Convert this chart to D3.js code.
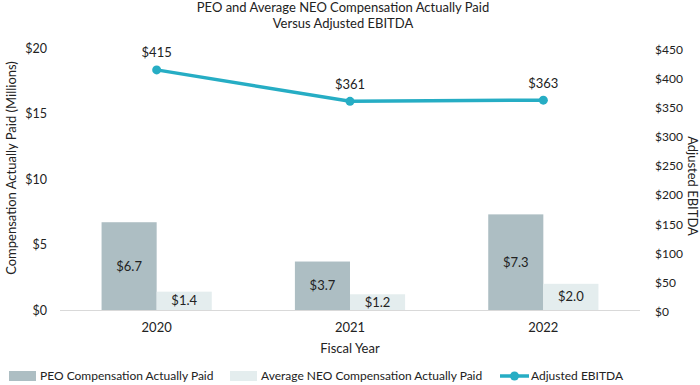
<!DOCTYPE html>
<html>
<head>
<meta charset="utf-8">
<script src="https://cdn.jsdelivr.net/npm/d3@7"></script>
<style>
	body { margin: 0; background: #fff; }
	svg { font-family: Lato, "Open Sans", sans-serif; fill: #222; }
</style>
</head>
<body>
<svg id="chart" width="700" height="385"></svg>
<script>
// Data
var years = ["2020", "2021", "2022"];
var series = ["PEO Compensation Actually Paid", "Average NEO Compensation Actually Paid"];
var peoPaid = [6.7, 3.7, 7.3];
var neoPaid = [1.4, 1.2, 2.0];
var ebitda = [415, 361, 363];
var leftTicks = [0, 5, 10, 15, 20];
var rightTicks = [0, 50, 100, 150, 200, 250, 300, 350, 400, 450];

var colors = ["#adbec3", "#e4edee"];
var lineColor = "#26adc4";

var svg = d3.select("#chart");

// Sizing
var plotLeft = 60, plotRight = 640, plotTop = 48, plotBottom = 310;

var xscale = d3.scaleBand().domain(years).range([plotLeft, plotRight]).paddingInner(0.43).paddingOuter(0.215);
var xinner = d3.scaleBand().domain(series).range([0, xscale.bandwidth()]);
var xline = d3.scalePoint().domain(years).range([plotLeft, plotRight]).padding(0.5);
var yleft = d3.scaleLinear().domain([0, 20]).range([plotBottom, plotTop]);
var yright = d3.scaleLinear().domain([0, 450]).range([plotBottom + 1.5, plotTop + 1.5]);

// Title
var title = svg.append("text").attr("text-anchor", "middle").style("font-size", "13px");
title.append("tspan").attr("x", 343).attr("y", 12).text("PEO and Average NEO Compensation Actually Paid");
title.append("tspan").attr("x", 343).attr("y", 28).text("Versus Adjusted EBITDA");

// Axes (labels only)
var leftAxis = svg.append("g")
	.attr("transform", `translate(${plotLeft - 13},0)`)
	.call(d3.axisLeft(yleft).tickValues(leftTicks).tickSize(0).tickFormat((d) => "$" + d));
leftAxis.select(".domain").remove();
leftAxis.selectAll("text").attr("x", 0).style("font-size", "12.5px").style("font-family", "Lato").attr("fill", "#222");

var rightAxis = svg.append("g")
	.attr("transform", `translate(${plotRight + 15},0)`)
	.call(d3.axisRight(yright).tickValues(rightTicks).tickSize(0).tickFormat((d) => "$" + d));
rightAxis.select(".domain").remove();
rightAxis.selectAll("text").attr("x", 0).style("font-size", "12px").style("font-family", "Lato").attr("fill", "#222");

svg.append("text")
	.attr("transform", "translate(11,168) rotate(-90)")
	.attr("text-anchor", "middle")
	.attr("dy", "0.35em")
	.style("font-size", "13px")
	.text("Compensation Actually Paid (Millions)");

svg.append("text")
	.attr("transform", "translate(693,186) rotate(90)")
	.attr("text-anchor", "middle")
	.attr("dy", "0.35em")
	.style("font-size", "13px")
	.text("Adjusted EBITDA");

// Bars
var barData = [];
years.forEach((year, i) => {
	barData.push({ year: year, series: series[0], value: peoPaid[i] });
	barData.push({ year: year, series: series[1], value: neoPaid[i] });
});

var bars = svg.append("g");
bars.selectAll("rect")
	.data(barData)
	.join("rect")
	.attr("x", (d) => xscale(d.year) + xinner(d.series))
	.attr("y", (d) => yleft(d.value))
	.attr("width", xinner.bandwidth())
	.attr("height", (d) => yleft(0) - yleft(d.value))
	.attr("fill", (d) => colors[series.indexOf(d.series)]);

bars.selectAll("text")
	.data(barData)
	.join("text")
	.attr("x", (d) => xscale(d.year) + xinner(d.series) + xinner.bandwidth() / 2)
	.attr("y", (d) => (yleft(d.value) + yleft(0)) / 2)
	.attr("dy", "0.35em")
	.attr("text-anchor", "middle")
	.style("font-size", "13px")
	.text((d) => "$" + d.value.toFixed(1));

// Baseline
svg.append("line")
	.attr("x1", plotLeft).attr("x2", plotRight)
	.attr("y1", yleft(0) + 0.5).attr("y2", yleft(0) + 0.5)
	.attr("stroke", "#d9d9d9").attr("stroke-width", 1);

// Category labels
svg.append("g").selectAll("text")
	.data(years)
	.join("text")
	.attr("x", (d) => xscale(d) + xscale.bandwidth() / 2)
	.attr("y", 327)
	.attr("dy", "0.35em")
	.attr("text-anchor", "middle")
	.style("font-size", "13px")
	.text((d) => d);

svg.append("text")
	.attr("x", 350).attr("y", 348).attr("dy", "0.35em")
	.attr("text-anchor", "middle")
	.style("font-size", "13px")
	.text("Fiscal Year");

// EBITDA line
var lineData = years.map((year, i) => ({ year: year, value: ebitda[i] }));
svg.append("path")
	.datum(lineData)
	.attr("fill", "none")
	.attr("stroke", lineColor)
	.attr("stroke-width", 3.5)
	.attr("d", d3.line().x((d) => xline(d.year)).y((d) => yright(d.value)));

svg.append("g").selectAll("circle")
	.data(lineData)
	.join("circle")
	.attr("cx", (d) => xline(d.year))
	.attr("cy", (d) => yright(d.value))
	.attr("r", 4.5)
	.attr("fill", lineColor);

svg.append("g").selectAll("text")
	.data(lineData)
	.join("text")
	.attr("x", (d) => xline(d.year))
	.attr("y", (d) => yright(d.value) - 17)
	.attr("dy", "0.35em")
	.attr("text-anchor", "middle")
	.style("font-size", "13px")
	.text((d) => "$" + d.value);

// Legend
var legend = svg.append("g").style("font-size", "12px");
var legendItems = [
	{ label: series[0], x: 9, color: colors[0], type: "rect" },
	{ label: series[1], x: 230, color: colors[1], type: "rect" },
	{ label: "Adjusted EBITDA", x: 500, color: lineColor, type: "line" },
];
legendItems.forEach((item) => {
	var g = legend.append("g").attr("transform", `translate(${item.x},376)`);
	if (item.type === "rect") {
		g.append("rect").attr("x", 0).attr("y", -5).attr("width", 27).attr("height", 10).attr("fill", item.color);
	} else {
		g.append("line").attr("x1", 0).attr("x2", 29).attr("y1", 0).attr("y2", 0)
			.attr("stroke", item.color).attr("stroke-width", 3.5);
		g.append("circle").attr("cx", 14.5).attr("cy", 0).attr("r", 4.5).attr("fill", item.color);
	}
	g.append("text")
		.attr("x", 31)
		.attr("dy", "0.35em")
		.text(item.label);
});
</script>
</body>
</html>
